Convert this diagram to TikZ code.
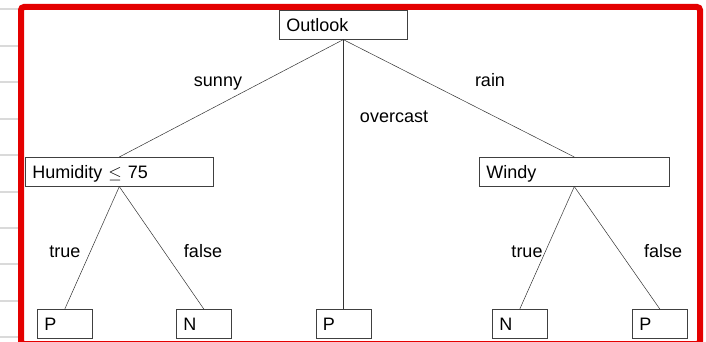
\documentclass[tikz,border=0pt]{standalone}
\usepackage{fontspec}
\setmainfont{Liberation Sans}
\usetikzlibrary{positioning}
\definecolor{framered}{RGB}{228,0,0}
\definecolor{rulegray}{RGB}{218,218,218}
\tikzset{
  treebox/.style={draw=black!75, line width=0.6pt, anchor=north west,
    minimum height=29pt, inner xsep=7pt, inner ysep=0pt,
    text width=#1, align=left, text height=13pt, text depth=0pt,
    font=\fontsize{18}{20}\selectfont},
  branch/.style={draw=black!80, line width=0.5pt},
  edgelabel/.style={anchor=base, inner sep=0pt, font=\fontsize{18}{20}\selectfont},
}
\begin{document}
\begin{tikzpicture}[x=1pt,y=-1pt]
\useasboundingbox (0,0) rectangle (706,342);
% ruled paper at the left edge
\foreach \k in {0,...,9} {
\draw[rulegray, line width=2pt] (0,{9.5+36.4*\k}) -- (19,{9.5+36.4*\k});
}
\draw[framered, line width=6pt, rounded corners=3pt] (21,7) rectangle (700,344);
% decision nodes
\node[treebox=114pt] (outlook) at (279,10) {Outlook};
\node[treebox=174pt] (humid) at (25,157) {Humidity $\leq$ 75};
\node[treebox=176pt] (windy) at (479,157) {Windy};
% leaves
\node[treebox=41pt] (humidP) at (37,309) {P};
\node[treebox=41pt] (humidN) at (176,309) {N};
\node[treebox=41pt] (overP) at (315.5,309) {P};
\node[treebox=41pt] (windyN) at (492,309) {N};
\node[treebox=41pt] (windyP) at (632,309) {P};
% branches
\draw[branch] (outlook.south) -- (humid.north);
\draw[branch] (outlook.south) -- (overP.north);
\draw[branch] (outlook.south) -- (windy.north);
\draw[branch] (humid.south) -- (humidP.north);
\draw[branch] (humid.south) -- (humidN.north);
\draw[branch] (windy.south) -- (windyN.north);
\draw[branch] (windy.south) -- (windyP.north);
% branch labels
\node[edgelabel] (lsunny) at (218,87) {sunny};
\node[edgelabel] (lover) at (394,123) {overcast};
\node[edgelabel] (lrain) at (490,87) {rain};
\node[edgelabel] (lhtrue) at (65,257) {true};
\node[edgelabel] (lhfalse) at (203,257) {false};
\node[edgelabel] (lwtrue) at (527,257) {true};
\node[edgelabel] (lwfalse) at (663,257) {false};
\end{tikzpicture}
\end{document}
